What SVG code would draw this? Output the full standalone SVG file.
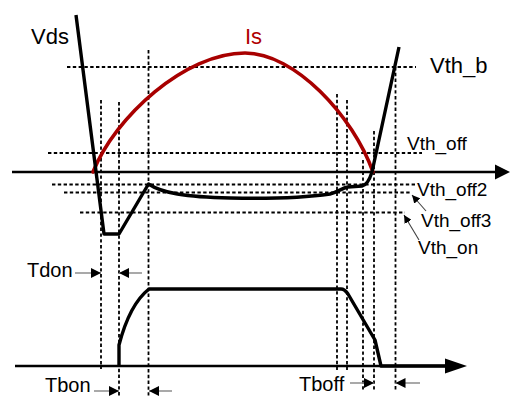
<svg xmlns="http://www.w3.org/2000/svg" width="511" height="396" viewBox="0 0 511 396">
<style>
.dash{stroke:#000;stroke-width:1.8;stroke-dasharray:3.4 2.4;fill:none}
.axis{stroke:#000;stroke-width:2.6;fill:none}
.wave{stroke:#000;stroke-width:3.4;fill:none;stroke-linejoin:round}
.is{stroke:#a80000;stroke-width:3.6;fill:none;stroke-linecap:round}
.dim{stroke:#8c8c8c;stroke-width:1.5;fill:none}
.ptr{stroke:#404040;stroke-width:1.1;fill:none}
text{font-family:"Liberation Sans",Arial,sans-serif;fill:#000}
.big{font-size:22px}
.mid{font-size:19px}
.sm{font-size:20px}
</style>
<defs>
<marker id="dimhead" markerUnits="userSpaceOnUse" markerWidth="11" markerHeight="10" refX="10" refY="5" orient="auto">
<path d="M0,0 L10,5 L0,10 z" fill="#000"/>
</marker>
<marker id="ptrhead" markerUnits="userSpaceOnUse" markerWidth="9" markerHeight="8" refX="8" refY="4" orient="auto">
<path d="M0,0 L8,4 L0,8 z" fill="#000"/>
</marker>
</defs>

<g id="dashed-lines">
<path class="dash" d="M67,67 H416"/>
<path class="dash" d="M48,153 H422"/>
<path class="dash" d="M52,184.5 H415"/>
<path class="dash" d="M64,192.5 H410"/>
<path class="dash" d="M80,212.5 H405"/>
<path class="dash" d="M101,100 V369"/>
<path class="dash" d="M119,102 V396"/>
<path class="dash" d="M148.5,50 V396"/>
<path class="dash" d="M337,94 V370"/>
<path class="dash" d="M347,100 V370"/>
<path class="dash" d="M363,160 V390"/>
<path class="dash" d="M374,131 V390"/>
<path class="dash" d="M395.5,67 V390"/>
</g>

<g id="axes">
<path class="axis" d="M12,172 H498"/>
<path d="M495,164.5 L510,172 L495,179.5 z" fill="#000"/>
<path class="axis" d="M15,366 H448"/>
<path d="M445,358.5 L467,366 L445,373.5 z" fill="#000"/>
</g>

<g id="is-curve">
<path class="is" d="M93,172 C115,117 185,53 245,53 C295,53 353,116 373,172"/>
</g>

<g id="vds-curve">
<path class="wave" d="M76,15 L104,234 L119,234 L148.5,184 C162,193 185,197 230,198 C280,199 310,197 330,194 C338,192 342,188 348,187 L362,186 C367,185 369.5,180 372,172 L399,47"/>
</g>

<g id="gate-curve">
<path class="wave" d="M119,366 L119,345 C125,322 135,300 149,289 L341,289 C344,289 346,291 348,294 L375,340 L381,366 L445,366"/>
</g>

<g id="pointers">
<path class="ptr" d="M426,211 L412,195" marker-end="url(#ptrhead)"/>
<path class="ptr" d="M419,240 L404,215" marker-end="url(#ptrhead)"/>
</g>

<g id="dimensions">
<path class="dim" d="M75,273 H101" marker-end="url(#dimhead)"/>
<path class="dim" d="M142,273 H119" marker-end="url(#dimhead)"/>
<path class="dim" d="M94,391 H119" marker-end="url(#dimhead)"/>
<path class="dim" d="M172,391 H149" marker-end="url(#dimhead)"/>
<path class="dim" d="M350,383 H374" marker-end="url(#dimhead)"/>
<path class="dim" d="M420,383 H395.5" marker-end="url(#dimhead)"/>
</g>

<g id="labels">
<text class="big" x="31" y="44">Vds</text>
<text class="big" x="245" y="44" style="fill:#b00000">Is</text>
<text class="big" x="430" y="73">Vth_b</text>
<text class="mid" x="407" y="150">Vth_off</text>
<text class="mid" x="417" y="196">Vth_off2</text>
<text class="mid" x="421" y="227">Vth_off3</text>
<text class="mid" x="418" y="254">Vth_on</text>
<text class="sm" x="27" y="277">Tdon</text>
<text class="sm" x="45" y="392">Tbon</text>
<text class="sm" x="299" y="391">Tboff</text>
</g>
</svg>
